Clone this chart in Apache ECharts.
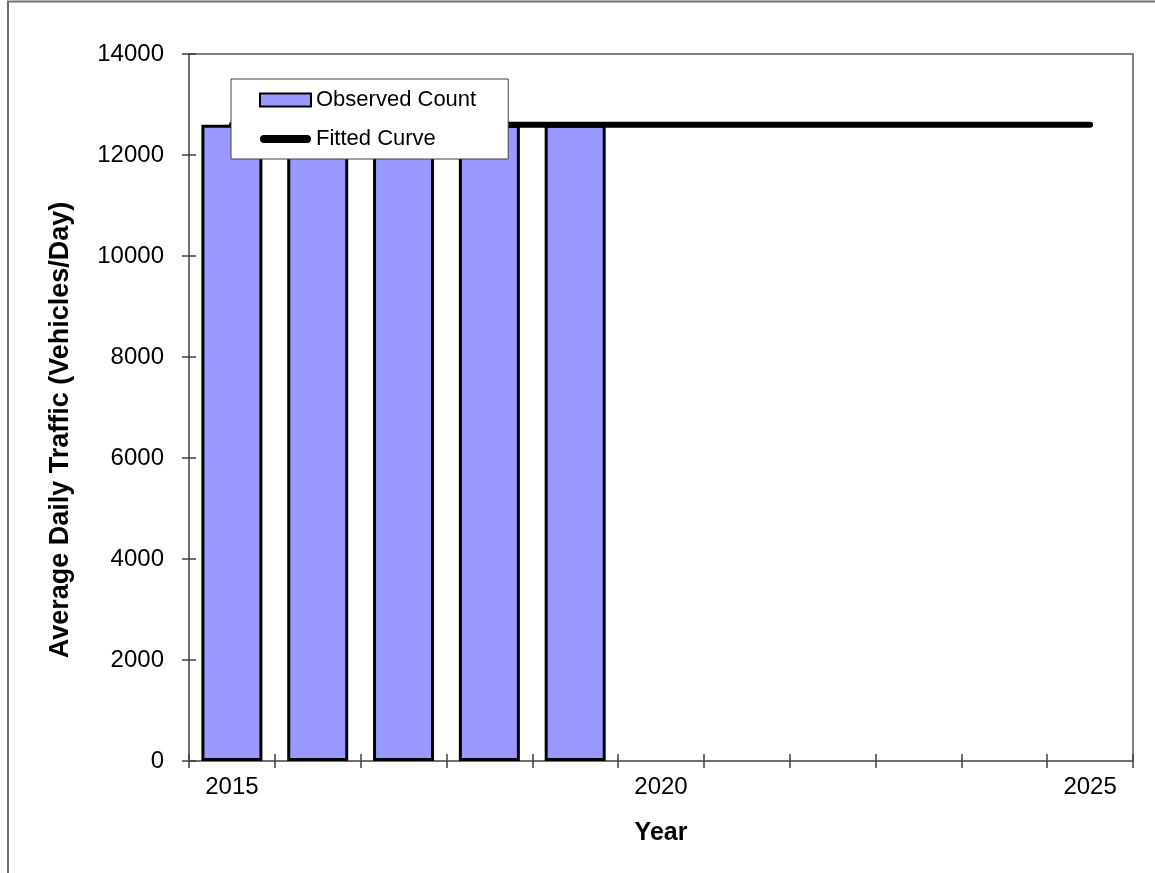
<!DOCTYPE html>
<html>
<head>
<meta charset="utf-8">
<title>Average Daily Traffic</title>
<script src="https://cdn.jsdelivr.net/npm/echarts@6/dist/echarts.min.js"></script>
<style>
  html, body { margin: 0; padding: 0; background: #fff; }
  #chart { width: 1155px; height: 873px; }
</style>
</head>
<body>
<div id="chart"></div>
<script>
// Years on the horizontal axis
const years = ['2015', '2016', '2017', '2018', '2019', '2020', '2021', '2022', '2023', '2024', '2025'];
// Observed counts (vehicles/day); no counts after 2019
const observedCount = [12600, 12600, 12600, 12600, 12600, null, null, null, null, null, null];
// Fitted curve through the whole period
const fittedCurve = [12600, 12600, 12600, 12600, 12600, 12600, 12600, 12600, 12600, 12600, 12600];
// Value axis settings
const yMin = 0, yMax = 14000, yStep = 2000;

const FONT = "'Liberation Sans', Arial, sans-serif";
const gridBox = { left: 189, top: 54, right: 22, bottom: 112 };
const tickStyle = { color: '#404040', width: 1.5 };

const chart = echarts.init(document.getElementById('chart'), null, { renderer: 'canvas' });

chart.setOption({
  animation: false,
  backgroundColor: '#ffffff',
  textStyle: { fontFamily: FONT },
  grid: [
    Object.assign({ show: true, borderColor: '#808080', borderWidth: 2, backgroundColor: 'transparent' }, gridBox),
    Object.assign({ show: false }, gridBox)
  ],
  xAxis: [
    {
      type: 'category', gridIndex: 0, data: years, boundaryGap: true,
      axisLine: { lineStyle: { color: '#707070', width: 2 } },
      axisTick: { show: true, interval: 0, length: 7, lineStyle: tickStyle },
      axisLabel: { interval: 4, margin: 14, fontSize: 24, color: '#000', fontFamily: FONT },
      name: 'Year', nameLocation: 'middle', nameGap: 60,
      nameTextStyle: { fontSize: 25, fontWeight: 'bold', color: '#000', fontFamily: FONT }
    },
    {
      // inner half of the crossing ticks
      type: 'category', gridIndex: 1, data: years, boundaryGap: true,
      axisLine: { show: false },
      axisTick: { show: true, inside: true, interval: 0, length: 7, lineStyle: tickStyle },
      axisLabel: { show: false }
    }
  ],
  yAxis: [
    {
      type: 'value', gridIndex: 0, min: yMin, max: yMax, interval: yStep,
      axisLine: { show: true, lineStyle: { color: '#707070', width: 2 } },
      axisTick: { show: true, length: 7, lineStyle: tickStyle },
      axisLabel: { margin: 25, fontSize: 24, color: '#000', fontFamily: FONT, formatter: v => String(v) },
      splitLine: { show: false }
    },
    {
      type: 'value', gridIndex: 1, min: yMin, max: yMax, interval: yStep,
      axisLine: { show: false },
      axisTick: { show: true, inside: true, length: 7, lineStyle: tickStyle },
      axisLabel: { show: false },
      splitLine: { show: false }
    }
  ],
  legend: {
    orient: 'vertical', left: 231, top: 79,
    padding: [10, 32, 9, 28], itemGap: 17,
    itemWidth: 51, itemHeight: 13,
    borderColor: '#404040', borderWidth: 1, backgroundColor: '#ffffff',
    textStyle: { fontSize: 22, color: '#000', fontFamily: FONT, lineHeight: 22 },
    data: [
      { name: 'Observed Count', icon: 'rect' },
      { name: 'Fitted Curve', icon: 'path://M4.5,0 L51.5,0 A4.5,4.5 0 0 1 51.5,9 L4.5,9 A4.5,4.5 0 0 1 4.5,0 Z',
        itemStyle: { color: '#000', borderWidth: 0 } }
    ]
  },
  series: [
    {
      name: 'Observed Count', type: 'bar', xAxisIndex: 0, yAxisIndex: 0,
      data: observedCount, barWidth: 61,
      itemStyle: { color: '#9999FF', borderColor: '#000', borderWidth: 3 },
      z: 2
    },
    {
      name: 'Fitted Curve', type: 'line', xAxisIndex: 0, yAxisIndex: 0,
      data: fittedCurve, symbol: 'none', showSymbol: false,
      lineStyle: { color: '#000', width: 6, cap: 'round' },
      itemStyle: { color: '#000' },
      z: 3
    },
    {
      // empty series that keeps the tick-only axes rendered
      name: 'ticks', type: 'line', xAxisIndex: 1, yAxisIndex: 1,
      data: years.map(() => null), symbol: 'none', silent: true,
      lineStyle: { width: 0 }
    }
  ],
  graphic: [
    {
      type: 'polyline', silent: true,
      shape: { points: [[8, 873], [8, 1.5], [1160, 1.5]] },
      style: { stroke: '#707070', lineWidth: 2, fill: null }
    },
    {
      type: 'text', silent: true,
      x: 61, y: 430, rotation: Math.PI / 2,
      style: {
        text: 'Average Daily Traffic (Vehicles/Day)',
        font: 'bold 27px ' + FONT, fill: '#000',
        align: 'center', verticalAlign: 'middle'
      }
    }
  ]
});
</script>
</body>
</html>
